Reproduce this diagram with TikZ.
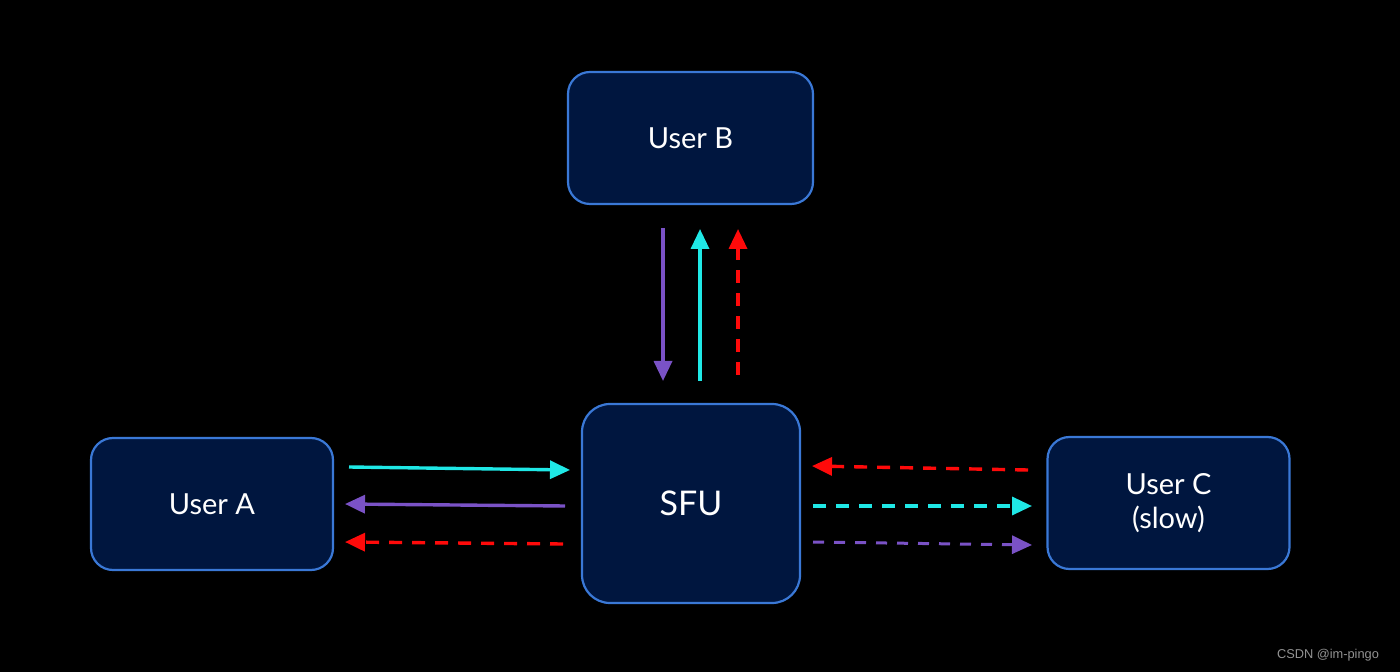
\documentclass[tikz,border=0pt]{standalone}
\usepackage{fontspec}
\setmainfont{Lato}
\newfontfamily\wmfont{Liberation Sans}
\usetikzlibrary{arrows.meta}
\definecolor{boxfill}{HTML}{00163F}
\definecolor{boxline}{HTML}{3A78D6}
\definecolor{cy}{HTML}{1FE8E6}
\definecolor{pu}{HTML}{7A52C6}
\definecolor{rd}{HTML}{FF0A0A}
\begin{document}
\begin{tikzpicture}[x=0.5pt,y=-0.5pt,
  userbox/.style={draw=boxline,line width=1.1pt,fill=boxfill,rounded corners=11pt,
    minimum width=121pt,minimum height=66pt,text=white,font=\fontsize{14.5}{17}\selectfont,align=center},
  sfubox/.style={userbox,rounded corners=14pt,minimum width=109pt,minimum height=99.5pt,font=\fontsize{17}{20}\selectfont},
  flow/.style={line width=1.7pt,-{Triangle[length=10pt,width=9pt]}},
  dsh/.style={flow,dash pattern=on 6.5pt off 5pt}
]
\fill[black] (0,0) rectangle (1400,672);
\node[userbox] (A) at (212,504) {User A};
\node[userbox,minimum width=122.5pt] (B) at (690.5,138) {User B};
\node[sfubox] (S) at (691,503.5) {SFU};
\node[userbox] (C) at (1168.5,503) {User C\\(slow)};
\node[text=gray!85,font=\fontsize{6.4}{8}\selectfont\wmfont,anchor=east] (W) at (1386,655) {CSDN @im-pingo};
% vertical
\coordinate (v1s) at (663,228); \coordinate (v1e) at (663,381);
\coordinate (v2s) at (700,381); \coordinate (v2e) at (700,229);
\coordinate (v3s) at (738,375); \coordinate (v3e) at (738,229);
\draw[flow,pu] (v1s) -- (v1e);
\draw[flow,cy] (v2s) -- (v2e);
\draw[dsh,rd] (v3s) -- (v3e);
% left
\coordinate (l1s) at (349,467); \coordinate (l1e) at (570,470);
\coordinate (l2s) at (565,506); \coordinate (l2e) at (345,504);
\coordinate (l3s) at (563,544); \coordinate (l3e) at (345,542);
\draw[flow,cy] (l1s) -- (l1e);
\draw[flow,pu] (l2s) -- (l2e);
\draw[dsh,rd] (l3s) -- (l3e);
% right
\coordinate (r1s) at (1028,470); \coordinate (r1e) at (812,466);
\coordinate (r2s) at (813,506); \coordinate (r2e) at (1032,506);
\coordinate (r3s) at (813,542); \coordinate (r3e) at (1032,545);
\draw[dsh,rd] (r1s) -- (r1e);
\draw[dsh,cy] (r2s) -- (r2e);
\draw[dsh,pu,line width=1.5pt,dash pattern=on 5.5pt off 5pt] (r3s) -- (r3e);
\end{tikzpicture}
\end{document}
